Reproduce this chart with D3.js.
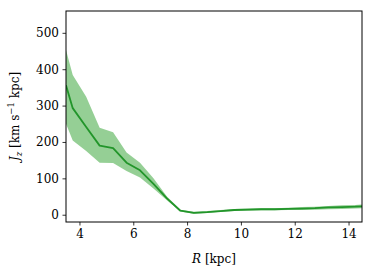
<!DOCTYPE html>
<html>
<head>
<meta charset="utf-8">
<script src="https://cdn.jsdelivr.net/npm/d3@7"></script>
<style>
  body { margin: 0; background: #fff; }
  svg text { font-family: "DejaVu Serif", serif !important; }
</style>
</head>
<body>
<svg id="chart" width="374" height="278"></svg>
<script>
// radius bins [kpc]
var radius = [3.5, 3.75, 4.25, 4.75, 5.25, 5.75, 6.25, 6.75, 7.25, 7.75, 8.25, 8.75, 9.25, 9.75,
  10.25, 10.75, 11.25, 11.75, 12.25, 12.75, 13.25, 13.75, 14.25, 14.5];
// median J_z
var jzMid = [356, 293, 241, 190, 183, 143, 122, 85, 45, 11, 5, 7, 10, 13,
  14, 15, 15, 16, 17, 18, 20, 21, 22, 23];
// band edges
var jzLow = [250, 204, 175, 143, 142, 120, 102, 72, 40, 9, 3, 5, 8, 10,
  11, 12, 12, 13, 13, 14, 15, 16, 17, 18];
var jzHigh = [453, 384, 324, 239, 227, 171, 143, 100, 50, 14, 8, 10, 13, 16,
  17, 18, 18, 19, 21, 22, 24, 26, 27, 28];
var xTicks = [4, 6, 8, 10, 12, 14];
var yTicks = [0, 100, 200, 300, 400, 500];

var svg = d3.select("#chart");
var margin = { left: 66, right: 12, top: 11, bottom: 56 };
var width = +svg.attr("width") - margin.left - margin.right;
var height = +svg.attr("height") - margin.top - margin.bottom;

var x = d3.scaleLinear().domain([3.5, 14.5]).range([0, width]);
var y = d3.scaleLinear().domain([-20, 560]).range([height, 0]);

var g = svg.append("g").attr("transform", "translate(" + margin.left + "," + margin.top + ")");

g.append("clipPath").attr("id", "clip")
  .append("rect").attr("width", width).attr("height", height);

var rows = radius.map(function (r, i) {
  return { r: r, mid: jzMid[i], lo: jzLow[i], hi: jzHigh[i] };
});

var plot = g.append("g").attr("clip-path", "url(#clip)");

plot.append("path")
  .datum(rows)
  .attr("fill", "#2ca02c")
  .attr("fill-opacity", 0.5)
  .attr("d", d3.area()
    .x(function (d) { return x(d.r); })
    .y0(function (d) { return y(d.lo); })
    .y1(function (d) { return y(d.hi); }));

plot.append("path")
  .datum(rows)
  .attr("fill", "none")
  .attr("stroke", "#22952a")
  .attr("stroke-width", 1.8)
  .attr("stroke-linejoin", "round")
  .attr("d", d3.line()
    .x(function (d) { return x(d.r); })
    .y(function (d) { return y(d.mid); }));

// axes
var xAxis = g.append("g")
  .attr("transform", "translate(0," + height + ")")
  .call(d3.axisBottom(x).tickValues(xTicks).tickSize(3.5).tickPadding(3.5));
var yAxis = g.append("g")
  .call(d3.axisLeft(y).tickValues(yTicks).tickSize(3.5).tickPadding(3.5));

[xAxis, yAxis].forEach(function (a) {
  a.attr("font-family", null);
  a.select(".domain").remove();
  a.selectAll("line").attr("stroke", "#000").attr("stroke-width", 0.8);
  a.selectAll("text")
    .attr("font-size", 12)
    .attr("fill", "#000");
});

// frame
g.append("rect")
  .attr("width", width).attr("height", height)
  .attr("fill", "none").attr("stroke", "#000").attr("stroke-width", 1);

// labels
var xl = svg.append("text")
  .attr("x", margin.left + width / 2).attr("y", 263)
  .attr("text-anchor", "middle").attr("font-size", 12);
xl.append("tspan").attr("font-style", "italic").text("R");
xl.append("tspan").text(" [kpc]");

var yl = svg.append("text")
  .attr("transform", "translate(19," + (margin.top + height / 2) + ") rotate(-90)")
  .attr("text-anchor", "middle").attr("font-size", 12);
yl.append("tspan").attr("font-style", "italic").text("J");
yl.append("tspan").attr("font-style", "italic").attr("font-size", 8.5).attr("dy", 3).text("z");
yl.append("tspan").attr("dy", -3).text(" [km s");
yl.append("tspan").attr("font-size", 8.5).attr("dy", -5).text("\u22121");
yl.append("tspan").attr("dy", 5).text(" kpc]");
</script>
</body>
</html>
